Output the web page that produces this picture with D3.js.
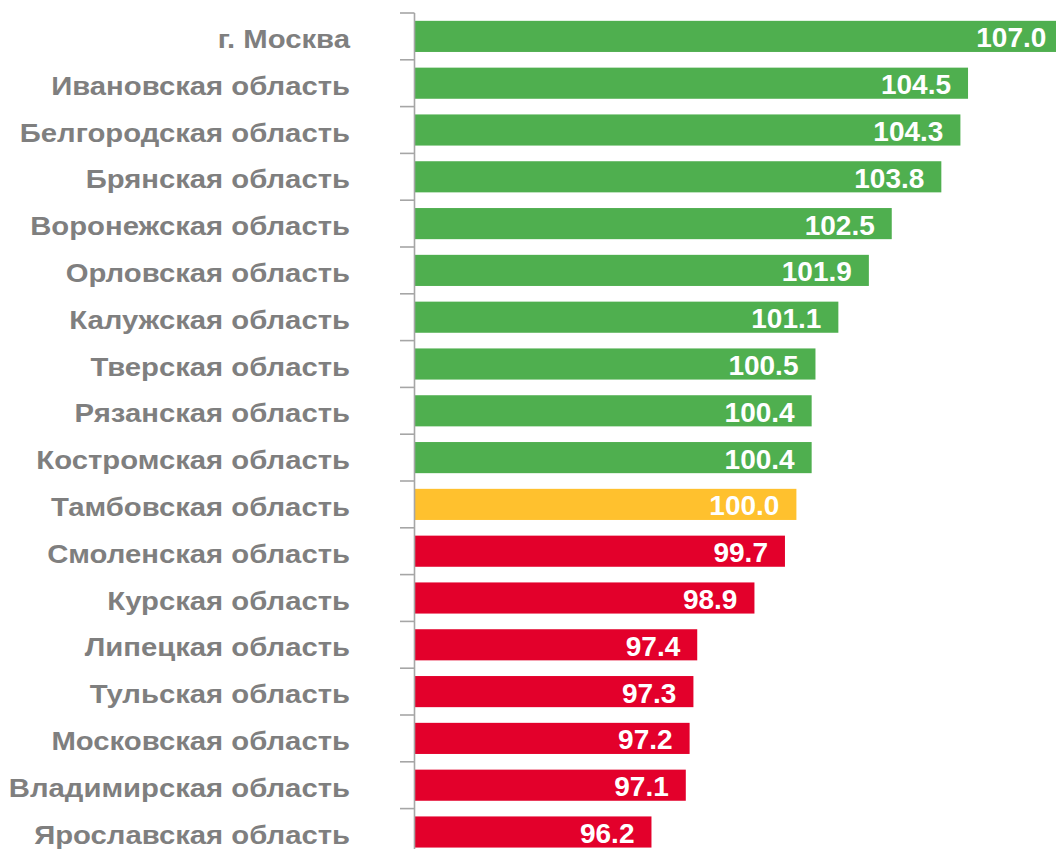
<!DOCTYPE html>
<html>
<head>
<meta charset="utf-8">
<script src="https://cdn.jsdelivr.net/npm/d3@7/dist/d3.min.js"></script>
<style>
  html, body { margin: 0; padding: 0; background: #ffffff; }
  svg { display: block; }
</style>
</head>
<body>
<svg id="chart" width="1056" height="849"></svg>
<script>
const categories = [
  "г. Москва",
  "Ивановская область",
  "Белгородская область",
  "Брянская область",
  "Воронежская область",
  "Орловская область",
  "Калужская область",
  "Тверская область",
  "Рязанская область",
  "Костромская область",
  "Тамбовская область",
  "Смоленская область",
  "Курская область",
  "Липецкая область",
  "Тульская область",
  "Московская область",
  "Владимирская область",
  "Ярославская область"
];
const values = [107.0, 104.5, 104.3, 103.8, 102.5, 101.9, 101.1, 100.5, 100.4, 100.4,
                100.0, 99.7, 98.9, 97.4, 97.3, 97.2, 97.1, 96.2];
const baseline = 100;
const colorAbove = "#4FAF4F", colorEqual = "#FFC12E", colorBelow = "#E3002B";

const data = categories.map((c, i) => ({ cat: c, val: values[i] }));

const svg = d3.select("#chart");
const axisX = 414.5, plotTop = 13, step = 46.8;

const x = d3.scaleLinear().domain([90, 107]).range([415, 415 + 17 * 38.14]);
const pad = 0.335;
const y = d3.scaleBand().domain(categories)
  .range([plotTop, plotTop + step * categories.length])
  .paddingInner(pad).paddingOuter(pad / 2);

const font = "'Liberation Sans', Arial, Helvetica, sans-serif";

// bars
svg.append("g").selectAll("rect").data(data).join("rect")
  .attr("x", x(90))
  .attr("y", d => y(d.cat))
  .attr("width", d => x(d.val) - x(90))
  .attr("height", y.bandwidth())
  .attr("fill", d => d.val > baseline ? colorAbove : (d.val < baseline ? colorBelow : colorEqual));

// axis line and ticks
const ax = svg.append("g");
ax.append("line")
  .attr("x1", axisX).attr("x2", axisX)
  .attr("y1", plotTop).attr("y2", 849)
  .attr("stroke", "#A6A6A6").attr("stroke-width", 1.6);
const tickYs = categories.map(c => y(c) - (y.step() - y.bandwidth()) / 2);
tickYs.push(tickYs[tickYs.length - 1] + y.step());
ax.selectAll("line.tick").data(tickYs).join("line")
  .attr("class", "tick")
  .attr("x1", 400).attr("x2", axisX)
  .attr("y1", d => d).attr("y2", d => d)
  .attr("stroke", "#A6A6A6").attr("stroke-width", 1.6);

// category labels (slightly wide lettering as in the reference)
svg.append("g").selectAll("text").data(data).join("text")
  .attr("transform", d => `translate(350,${y(d.cat) + y.bandwidth() / 2 + 11.5}) scale(1.105,1)`)
  .attr("x", 0)
  .attr("y", 0)
  .attr("text-anchor", "end")
  .attr("font-family", font)
  .attr("font-weight", "bold")
  .attr("font-size", 26.5)
  .attr("fill", "#7F7F7F")
  .text(d => d.cat);

// value labels
svg.append("g").selectAll("text").data(data).join("text")
  .attr("x", d => x(d.val) - 17)
  .attr("y", d => y(d.cat) + y.bandwidth() / 2 + 11)
  .attr("text-anchor", "end")
  .attr("font-family", font)
  .attr("font-weight", "bold")
  .attr("font-size", 28)
  .attr("fill", "#ffffff")
  .text(d => d.val.toFixed(1));
</script>
</body>
</html>
